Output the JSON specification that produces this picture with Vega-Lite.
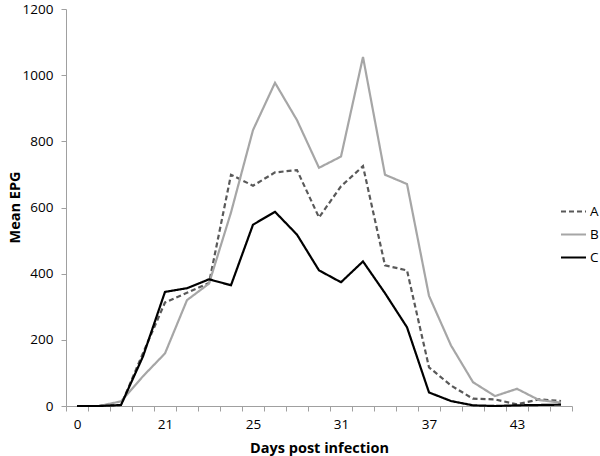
{
  "$schema": "https://vega.github.io/schema/vega-lite/v6.json",
  "width": 506,
  "height": 397,
  "autosize": {"type": "none"},
  "padding": {"left": 66, "top": 9, "right": 28, "bottom": 50},
  "background": "white",
  "config": {
    "view": {"stroke": null},
    "font": "Open Sans",
    "axis": {"labelFont": "Open Sans", "titleFont": "Open Sans", "labelColor": "#000", "titleColor": "#000", "domainColor": "#a0a0a0", "tickColor": "#a0a0a0", "grid": false}
  },
  "data": {
    "values": [
      {"day": 0, "group": "A", "epg": 0}, {"day": 7, "group": "A", "epg": 0}, {"day": 14, "group": "A", "epg": 3}, {"day": 18, "group": "A", "epg": 160},
      {"day": 21, "group": "A", "epg": 313}, {"day": 22, "group": "A", "epg": 342}, {"day": 23, "group": "A", "epg": 372}, {"day": 24, "group": "A", "epg": 699},
      {"day": 25, "group": "A", "epg": 666}, {"day": 26, "group": "A", "epg": 706}, {"day": 28, "group": "A", "epg": 713}, {"day": 29, "group": "A", "epg": 570},
      {"day": 31, "group": "A", "epg": 664}, {"day": 32, "group": "A", "epg": 725}, {"day": 34, "group": "A", "epg": 425}, {"day": 35, "group": "A", "epg": 410},
      {"day": 37, "group": "A", "epg": 117}, {"day": 38, "group": "A", "epg": 62}, {"day": 40, "group": "A", "epg": 22}, {"day": 41, "group": "A", "epg": 20},
      {"day": 43, "group": "A", "epg": 5}, {"day": 44, "group": "A", "epg": 20}, {"day": 46, "group": "A", "epg": 15},
      {"day": 0, "group": "B", "epg": 0}, {"day": 7, "group": "B", "epg": 0}, {"day": 14, "group": "B", "epg": 14}, {"day": 18, "group": "B", "epg": 90},
      {"day": 21, "group": "B", "epg": 159}, {"day": 22, "group": "B", "epg": 320}, {"day": 23, "group": "B", "epg": 370}, {"day": 24, "group": "B", "epg": 585},
      {"day": 25, "group": "B", "epg": 834}, {"day": 26, "group": "B", "epg": 977}, {"day": 28, "group": "B", "epg": 864}, {"day": 29, "group": "B", "epg": 720},
      {"day": 31, "group": "B", "epg": 754}, {"day": 32, "group": "B", "epg": 1055}, {"day": 34, "group": "B", "epg": 699}, {"day": 35, "group": "B", "epg": 671},
      {"day": 37, "group": "B", "epg": 333}, {"day": 38, "group": "B", "epg": 183}, {"day": 40, "group": "B", "epg": 72}, {"day": 41, "group": "B", "epg": 30},
      {"day": 43, "group": "B", "epg": 52}, {"day": 44, "group": "B", "epg": 18}, {"day": 46, "group": "B", "epg": 10},
      {"day": 0, "group": "C", "epg": 0}, {"day": 7, "group": "C", "epg": 0}, {"day": 14, "group": "C", "epg": 3}, {"day": 18, "group": "C", "epg": 150},
      {"day": 21, "group": "C", "epg": 345}, {"day": 22, "group": "C", "epg": 356}, {"day": 23, "group": "C", "epg": 383}, {"day": 24, "group": "C", "epg": 365},
      {"day": 25, "group": "C", "epg": 548}, {"day": 26, "group": "C", "epg": 587}, {"day": 28, "group": "C", "epg": 518}, {"day": 29, "group": "C", "epg": 410},
      {"day": 31, "group": "C", "epg": 374}, {"day": 32, "group": "C", "epg": 437}, {"day": 34, "group": "C", "epg": 341}, {"day": 35, "group": "C", "epg": 238},
      {"day": 37, "group": "C", "epg": 41}, {"day": 38, "group": "C", "epg": 15}, {"day": 40, "group": "C", "epg": 2}, {"day": 41, "group": "C", "epg": 0},
      {"day": 43, "group": "C", "epg": 2}, {"day": 44, "group": "C", "epg": 3}, {"day": 46, "group": "C", "epg": 4}
    ]
  },
  "mark": {"type": "line", "strokeWidth": 2.2},
  "encoding": {
    "x": {
      "field": "day", "type": "ordinal", "bandPosition": 0.5,
      "scale": {"type": "band", "paddingInner": 0, "paddingOuter": 0},
      "axis": {
        "title": "Days post infection", "titleFontSize": 14.5, "titleFontWeight": "bold", "titlePadding": 11,
        "labelAngle": 0, "labelFontSize": 13.5, "labelPadding": 6, "tickSize": 5, "tickBand": "extent",
        "labelExpr": "indexof([0,21,25,31,37,43], datum.value) >= 0 ? datum.label : ''"
      }
    },
    "y": {
      "field": "epg", "type": "quantitative",
      "scale": {"domain": [0, 1200], "nice": false},
      "axis": {
        "title": "Mean EPG", "titleFontSize": 14.5, "titleFontWeight": "bold", "titleX": -51, "titleY": 198, "titleBaseline": "middle",
        "values": [0, 200, 400, 600, 800, 1000, 1200], "format": "d", "labelFontSize": 13.5, "labelPadding": 8, "tickSize": 5
      }
    },
    "color": {
      "field": "group", "type": "nominal",
      "scale": {"domain": ["A", "B", "C"], "range": ["#595959", "#a6a6a6", "#000000"]},
      "legend": {
        "title": null, "orient": "none", "legendX": 494, "legendY": 189, "symbolType": "stroke", "symbolSize": 625,
        "symbolStrokeWidth": 2, "labelFontSize": 13.5, "labelColor": "#000", "rowPadding": 3, "labelOffset": 3
      }
    },
    "strokeDash": {
      "field": "group", "type": "nominal",
      "scale": {"domain": ["A", "B", "C"], "range": [[5, 3], [1, 0], [1, 0]]},
      "legend": null
    }
  }
}
